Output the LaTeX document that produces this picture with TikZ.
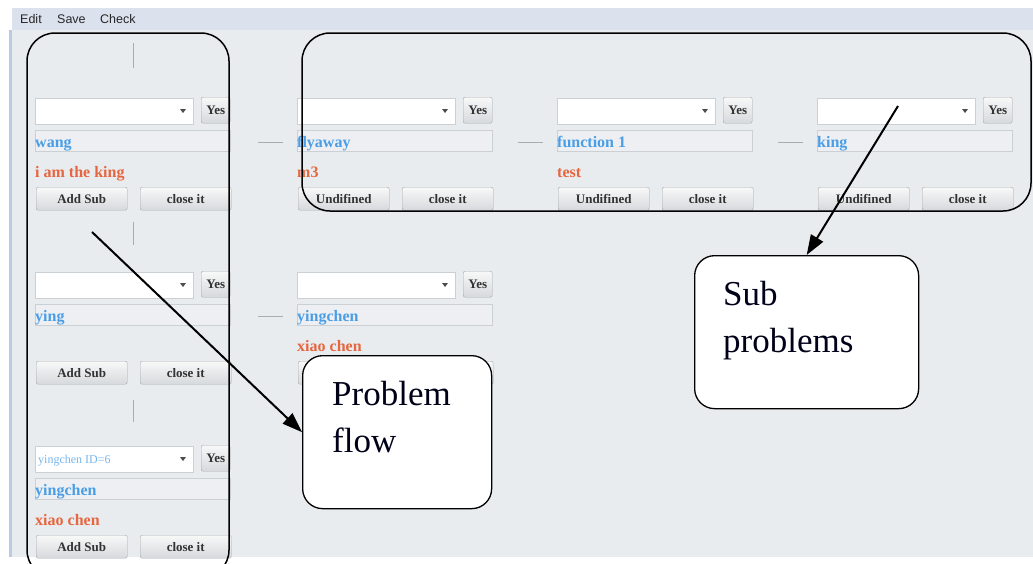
\documentclass[tikz,border=0pt]{standalone}
\usepackage{fontspec}
\setmainfont{Liberation Serif}
\newfontfamily\uisans{Liberation Sans}
\usetikzlibrary{arrows.meta}
\definecolor{appbg}{HTML}{E9ECEF}
\definecolor{menubg}{HTML}{DCE1EE}
\definecolor{sideline}{HTML}{B9CCE4}
\definecolor{uiblue}{HTML}{4A9EE6}
\definecolor{uired}{HTML}{E5663F}
\definecolor{fieldbg}{HTML}{EDEFF2}
\definecolor{edgegray}{HTML}{CBD0D5}
\definecolor{btnedge}{HTML}{A3A7AB}
\definecolor{btntop}{HTML}{F8F8F8}
\definecolor{btnbot}{HTML}{D6D9DC}
\definecolor{conngray}{HTML}{A9ADB2}
\tikzset{
  combo/.style={draw=edgegray, fill=white, minimum width=158, minimum height=26, anchor=north west, inner sep=0},
  yesbtn/.style={draw=btnedge, top color=btntop, bottom color=btnbot, rounded corners=2, minimum width=29, minimum height=26, anchor=north west, inner sep=0, text=black!80, font=\bfseries\fontsize{13}{13}\selectfont},
  field/.style={draw=edgegray, fill=fieldbg, minimum width=195, minimum height=21, anchor=north west, inner sep=0},
  bluetxt/.style={anchor=base west, inner sep=0, text=uiblue, font=\bfseries\fontsize{16}{16}\selectfont},
  redtxt/.style={anchor=base west, inner sep=0, text=uired, font=\bfseries\fontsize{16}{16}\selectfont},
  combotxt/.style={anchor=base west, inner sep=0, text=uiblue!75, font=\fontsize{12}{12}\selectfont},
  btn/.style={draw=btnedge, top color=btntop, bottom color=btnbot, rounded corners=2, minimum width=91, minimum height=23, anchor=north west, inner sep=0, text=black!80, font=\bfseries\fontsize{13}{13}\selectfont},
  conn/.style={draw=conngray, line width=0.8pt},
  bigframe/.style={draw=black, line width=1.5pt, rounded corners=28pt},
  callout/.style={draw=black, fill=white, line width=1.3pt, rounded corners=20pt, anchor=north west, inner sep=0},
  calltext/.style={anchor=base west, inner sep=0, text=black!90!blue, font=\fontsize{35}{35}\selectfont},
  pointer/.style={draw=black, line width=2pt, -{Triangle[length=20pt,width=14pt]}},
  menutxt/.style={anchor=west, inner sep=0, text=black!85, font=\uisans\fontsize{12.5}{12.5}\selectfont}
}
% #1 id, #2 x, #3 y, #4 blue text, #5 red text, #6 left button, #7 right button
\newcommand\uipanel[7]{%
  \begin{scope}[shift={(#2,#3)}]
    \node[combo] (#1cb) at (0,0) {};
    \fill[black!70] (145,11) -- (151,11) -- (148,15) -- cycle;
    \node[yesbtn] (#1yes) at (166,-1) {Yes};
    \node[field] (#1fd) at (0,32) {};
    \node[bluetxt] (#1nm) at (0,49) {#4};
    \if\relax\detokenize{#5}\relax\else\node[redtxt] (#1rd) at (0,79) {#5};\fi
    \node[btn] (#1ba) at (1,89) {#6};
    \node[btn] (#1bb) at (105,89) {#7};
  \end{scope}}
\begin{document}
\begin{tikzpicture}[x=1pt,y=-1pt]
  \useasboundingbox (0,0) rectangle (1033,563);
  \clip (0,0) rectangle (1033,563);
  % window background
  \fill[white] (0,0) rectangle (1033,563);
  \fill[appbg] (12,30) rectangle (1033,557);
  \fill[menubg] (12,8) rectangle (1033,30);
  \fill[sideline] (9,30) rectangle (12,557);
  \node[menutxt] (medit) at (20,19) {Edit};
  \node[menutxt] (msave) at (57,19) {Save};
  \node[menutxt] (mcheck) at (100,19) {Check};
  % panels
  \uipanel{pa}{35}{98}{wang}{i am the king}{Add Sub}{close it}
  \uipanel{pb}{297}{98}{flyaway}{m3}{Undifined}{close it}
  \uipanel{pc}{557}{98}{function 1}{test}{Undifined}{close it}
  \uipanel{pd}{817}{98}{king}{}{Undifined}{close it}
  \uipanel{pe}{35}{272}{ying}{}{Add Sub}{close it}
  \uipanel{pf}{297}{272}{yingchen}{xiao chen}{}{}
  \uipanel{pg}{35}{446}{yingchen}{xiao chen}{Add Sub}{close it}
  \node[combotxt] (pgct) at (38,463) {yingchen ID=6};
  % tree connectors
  \draw[conn] (pacb.north west) ++(98,-30) -- ++(0,-25);
  \draw[conn] (paba.south east) ++(6,12) -- ++(0,23);
  \draw[conn] (peba.south east) ++(6,16) -- ++(0,22);
  \draw[conn] (pafd.east) ++(28,2) -- ++(25,0);
  \draw[conn] (pbfd.east) ++(26,2) -- ++(25,0);
  \draw[conn] (pcfd.east) ++(26,2) -- ++(25,0);
  \draw[conn] (pefd.east) ++(28,2) -- ++(25,0);
  % highlight frames
  \draw[bigframe] (27,33) rectangle (229,578);
  \draw[bigframe] (302,33) rectangle (1031,211);
  % callouts
  \node[callout, minimum width=189, minimum height=153] (pflow) at (302,355) {};
  \node[calltext] (pflowa) at (332,405) {Problem};
  \node[calltext] (pflowb) at (332,452) {flow};
  \node[callout, minimum width=224, minimum height=153] (sprob) at (694,255) {};
  \node[calltext] (sproba) at (723,305) {Sub};
  \node[calltext] (sprobb) at (723,352) {problems};
  % pointers
  \coordinate (pfstart) at (92,232);
  \coordinate (spstart) at (898,106);
  \draw[pointer] (pfstart) -- (pflow.west);
  \draw[pointer] (spstart) -- (sprob.north);
\end{tikzpicture}
\end{document}
